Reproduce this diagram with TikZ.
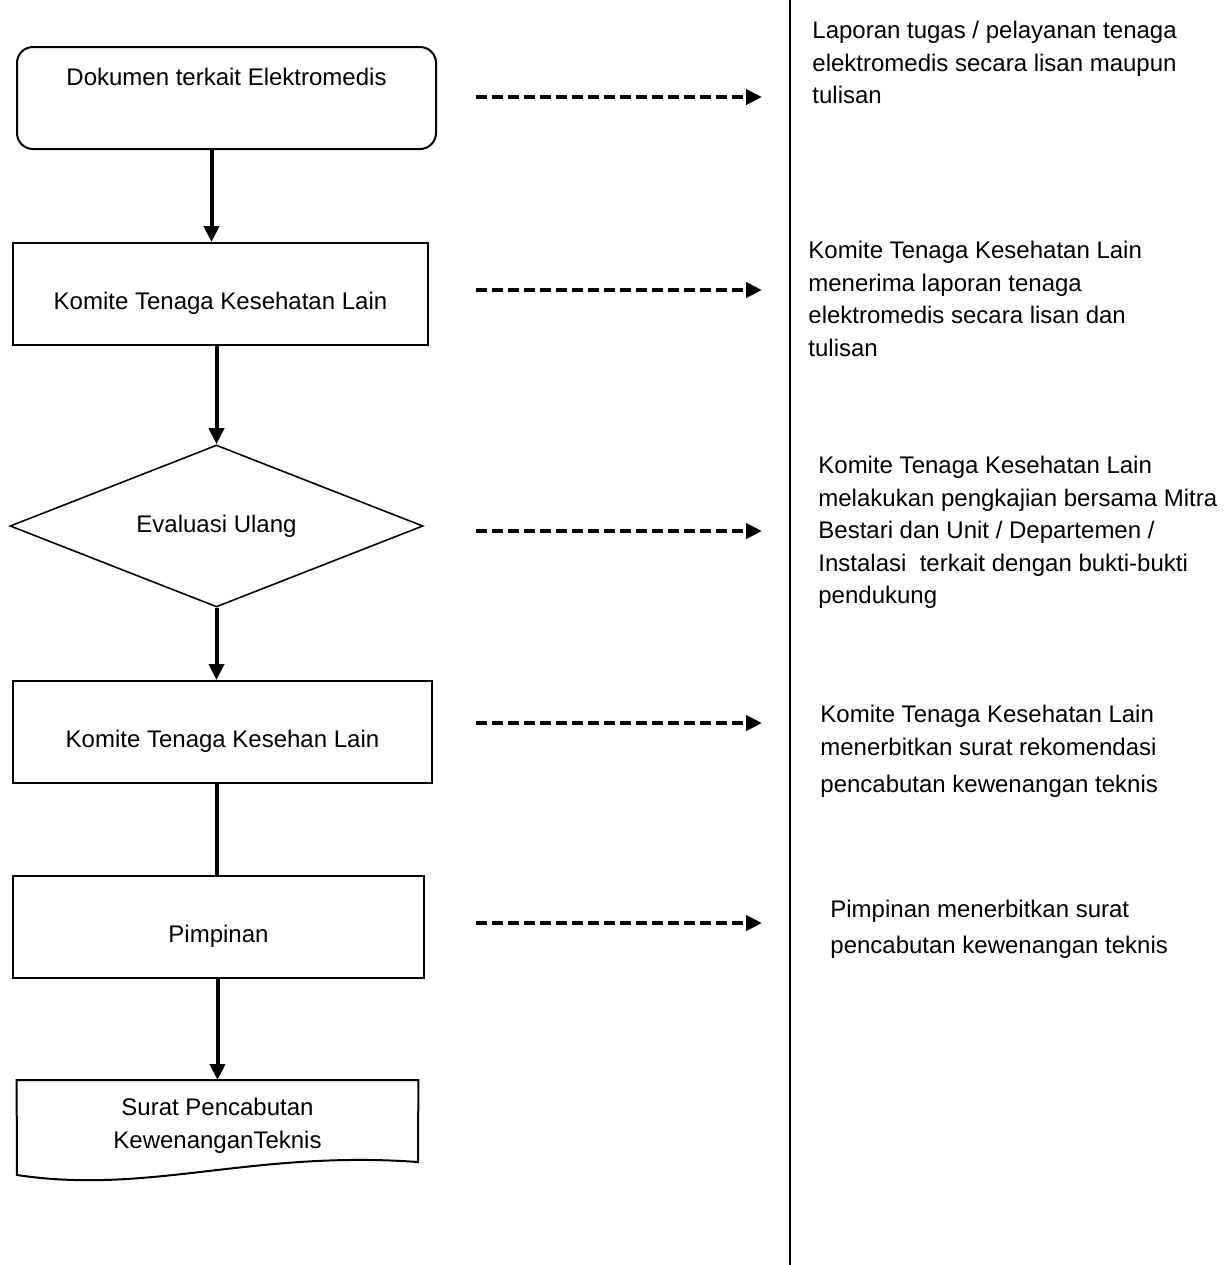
\documentclass[tikz,border=0pt]{standalone}
\usepackage{fontspec}
\setmainfont{Liberation Sans}
\usetikzlibrary{shapes.geometric,arrows.meta}

\tikzset{
  txt/.style={font=\fontsize{12}{16.25}\selectfont},
  flowbox/.style={draw, line width=1pt, txt, inner sep=0pt, minimum height=51pt, text height=33pt, text depth=18pt, align=center},
  flowarrow/.style={line width=2pt, -{Triangle[length=8pt,width=7.5pt]}},
  flowline/.style={line width=2pt},
  dasharrow/.style={line width=2pt, dash pattern=on 5.5pt off 2.5pt, -{Triangle[length=8pt,width=7.5pt]}},
  desc/.style={txt, anchor=north west, inner sep=0pt, align=left}
}

\begin{document}
\begin{tikzpicture}[x=0.5pt, y=-0.5pt]

  \useasboundingbox (0,0) rectangle (1230,1265);

  % Flow on the left
  \node[flowbox, rounded corners=8pt, minimum width=209.5pt, text height=19pt, text depth=32pt] (dok) at (226.5,98) {Dokumen terkait Elektromedis};
  \node[flowbox, minimum width=207.5pt] (kom1) at (220.5,294) {Komite Tenaga Kesehatan Lain};
  \node[diamond, draw, line width=0.8pt, txt, inner sep=0pt, aspect=2.55, minimum width=206.5pt, minimum height=81pt] (eval) at (216.5,526) {Evaluasi Ulang};
  \node[flowbox, minimum width=209.5pt] (kom2) at (222.5,732) {Komite Tenaga Kesehan Lain};
  \node[flowbox, minimum width=205.5pt] (pimp) at (218.5,927) {Pimpinan};

  % document shape at the end
  \node[txt, anchor=north, inner xsep=0pt, inner ysep=9pt, minimum width=200.5pt, align=center] (surat) at (217.5,1080) {Surat Pencabutan\\KewenanganTeknis};
  \draw[line width=1pt] (surat.north west) -- (surat.north east) -- (418,1162)
    .. controls (250,1150) and (150,1195) .. (17,1175) -- cycle;

  % Connectors
  \draw[flowarrow] ([xshift=-7.5pt]dok.south) -- ([xshift=-7.5pt]dok.south |- kom1.north);
  \draw[flowarrow] (kom1.south -| eval.north) -- (eval.north);
  \draw[flowarrow] (eval.south) -- (eval.south |- kom2.north);
  \draw[flowline] (kom2.south -| eval.south) -- (eval.south |- pimp.north);
  \draw[flowarrow] (pimp.south -| surat.north) -- (surat.north);

  % Divider
  \coordinate (divtop) at (790,0);
  \coordinate (divbot) at (790,1265);
  \draw[line width=1.2pt] (divtop) -- (divbot);

  % Dashed arrows
  \coordinate (a1) at (476,97);  \coordinate (b1) at (762,97);
  \coordinate (a2) at (476,290); \coordinate (b2) at (762,290);
  \coordinate (a3) at (476,531); \coordinate (b3) at (762,531);
  \coordinate (a4) at (476,723); \coordinate (b4) at (762,723);
  \coordinate (a5) at (476,923); \coordinate (b5) at (762,923);
  \draw[dasharrow] (a1) -- (b1);
  \draw[dasharrow] (a2) -- (b2);
  \draw[dasharrow] (a3) -- (b3);
  \draw[dasharrow] (a4) -- (b4);
  \draw[dasharrow] (a5) -- (b5);

  % Descriptions on the right
  \node[desc] (t1) at (812,21) {Laporan tugas / pelayanan tenaga\\elektromedis secara lisan maupun\\tulisan};
  \node[desc] (t2) at (808,241) {Komite Tenaga Kesehatan Lain\\menerima laporan tenaga\\elektromedis secara lisan dan\\tulisan};
  \node[desc] (t3) at (818,456) {Komite Tenaga Kesehatan Lain\\melakukan pengkajian bersama Mitra\\Bestari dan Unit / Departemen /\\Instalasi\ \ terkait dengan bukti-bukti\\pendukung};
  \node[desc] (t4) at (820,705) {Komite Tenaga Kesehatan Lain\\menerbitkan surat rekomendasi\\[2.5pt]pencabutan kewenangan teknis};
  \node[desc] (t5) at (830,900) {Pimpinan menerbitkan surat\\[1.5pt]pencabutan kewenangan teknis};

\end{tikzpicture}
\end{document}
